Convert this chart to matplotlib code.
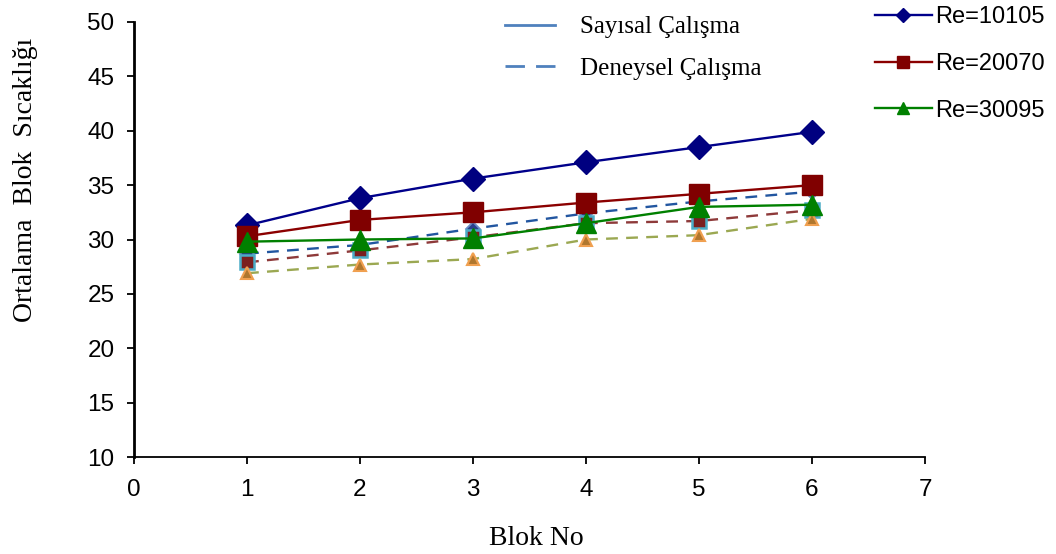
import matplotlib
matplotlib.use("Agg")
import matplotlib.pyplot as plt
from matplotlib.lines import Line2D

# Block numbers and mean block temperatures
blocks = [1, 2, 3, 4, 5, 6]

num_re10105 = [31.3, 33.8, 35.6, 37.1, 38.5, 39.9]
num_re20070 = [30.3, 31.8, 32.5, 33.4, 34.2, 35.0]
num_re30095 = [29.8, 30.0, 30.1, 31.5, 33.0, 33.2]

exp_re10105 = [28.7, 29.5, 31.0, 32.4, 33.5, 34.4]
exp_re20070 = [27.9, 29.0, 30.2, 31.5, 31.7, 32.7]
exp_re30095 = [26.9, 27.7, 28.2, 30.0, 30.4, 31.9]

series_labels = ["Re=10105", "Re=20070", "Re=30095"]
x_ticks = [0, 1, 2, 3, 4, 5, 6, 7]
y_ticks = [10, 15, 20, 25, 30, 35, 40, 45, 50]

W, H = 1056, 554
fig = plt.figure(figsize=(W / 100, H / 100), dpi=100)
ax = fig.add_axes([134 / W, 1 - 457 / H, (925 - 134) / W, (457 - 22) / H])

serif = "Liberation Serif"
sans = "Liberation Sans"
dash = (0, (5, 3.5))

# Experimental (dashed) series
ax.plot(blocks, exp_re10105, ls=dash, color="#2256A0", lw=1.7,
        marker="D", ms=7, mfc="#2B3F8C", mec="#6A8FC8", mew=1.3, zorder=3)
ax.plot(blocks, exp_re20070, ls=dash, color="#8E3A3A", lw=1.7,
        marker="s", ms=10, mfc="#7B1F1F", mec="#4BACC6", mew=1.8, zorder=3)
ax.plot(blocks, exp_re30095, ls=dash, color="#9BA852", lw=1.7,
        marker="^", ms=9, mfc="#B0772E", mec="#F0A050", mew=1.5, zorder=3)

# Numerical (solid) series
ax.plot(blocks, num_re10105, ls="-", color="#00008B", lw=1.7,
        marker="D", ms=12.5, mfc="#000080", mec="#000080", zorder=4,
        label=series_labels[0])
ax.plot(blocks, num_re20070, ls="-", color="#8B0000", lw=1.7,
        marker="s", ms=15, mfc="#800000", mec="#800000", zorder=4,
        label=series_labels[1])
ax.plot(blocks, num_re30095, ls="-", color="#008000", lw=1.7,
        marker="^", ms=14, mfc="#008000", mec="#008000", zorder=4,
        label=series_labels[2])

ax.set_xlim(0, 7)
ax.set_ylim(10, 50)
ax.set_xticks(x_ticks)
ax.set_yticks(y_ticks)
ax.spines["top"].set_visible(False)
ax.spines["right"].set_visible(False)
ax.spines["left"].set_linewidth(2.0)
ax.spines["bottom"].set_linewidth(1.3)
ax.tick_params(axis="both", direction="out", length=5, width=1.3,
               labelsize=17.5, pad=9)
ax.tick_params(axis="x", pad=11)
for lab in ax.get_xticklabels() + ax.get_yticklabels():
    lab.set_fontfamily(sans)

ax.set_xlabel("Blok No", fontfamily=serif, fontsize=20)
ax.set_ylabel("Ortalama  Blok  Sıcaklığı", fontfamily=serif, fontsize=20)
ax.xaxis.set_label_coords(0.508, -0.158)
ax.yaxis.set_label_coords(-0.121, 0.637)

# Legend for the Reynolds numbers
leg_re = ax.legend(loc="upper left", bbox_to_anchor=(875 / W, 1 - 6 / H),
                   bbox_transform=fig.transFigure, borderaxespad=0,
                   borderpad=0, frameon=False,
                   prop={"family": sans, "size": 17},
                   handlelength=2.4, handletextpad=0.15, labelspacing=1.05,
                   markerscale=0.6)
ax.add_artist(leg_re)

# Legend for the line styles
style_handles = [
    Line2D([], [], color="#4F81BD", lw=2.0, ls="-"),
    Line2D([], [], color="#4F81BD", lw=2.0, ls=(0, (7, 4))),
]
ax.legend(style_handles, ["Sayısal Çalışma", "Deneysel Çalışma"],
          loc="upper left", bbox_to_anchor=(505 / W, 1 - 16 / H),
          bbox_transform=fig.transFigure, borderaxespad=0, borderpad=0,
          frameon=False, prop={"family": serif, "size": 18},
          handlelength=2.0, handletextpad=1.0, labelspacing=0.74)

fig.savefig("out.png", dpi=100, facecolor="white")
